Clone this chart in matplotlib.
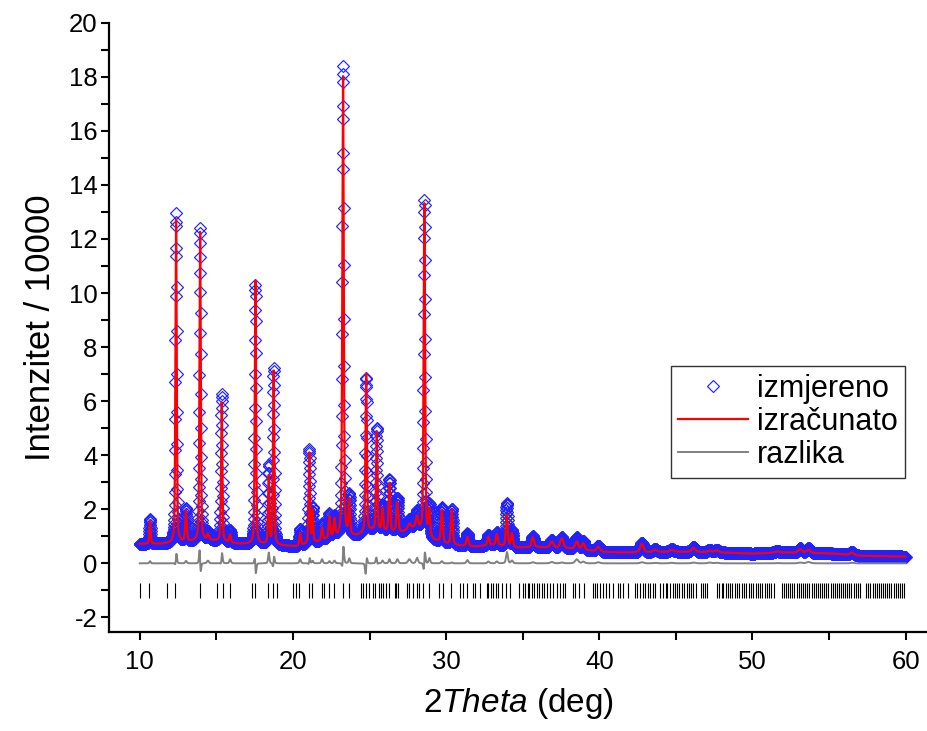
import numpy as np
import matplotlib
matplotlib.use('Agg')
import matplotlib.pyplot as plt
from matplotlib.ticker import MultipleLocator

plt.rcParams['font.family'] = ['Liberation Sans', 'DejaVu Sans']
plt.rcParams['mathtext.fontset'] = 'custom'
plt.rcParams['mathtext.rm'] = 'Liberation Sans'
plt.rcParams['mathtext.it'] = 'Liberation Sans:italic'
plt.rcParams['axes.unicode_minus'] = False

peak_pos = [10.67, 12.37, 13.02, 13.94, 14.45, 15.35, 15.90, 17.55, 18.42, 18.74,
            20.47, 21.07, 21.29, 21.90, 22.38, 22.71, 23.27, 23.68, 24.78, 25.47,
            25.85, 26.30, 26.82, 27.60, 28.10, 28.58, 28.91, 29.72, 30.37, 31.39,
            32.76, 33.31, 33.96, 34.30, 35.66, 36.90, 37.55, 38.53, 38.96, 39.94,
            42.78, 43.64, 44.73, 46.15, 47.20, 47.67, 51.60, 53.11, 53.66, 56.49]
calc_top = [1.55, 12.70, 1.91, 12.25, 1.05, 5.95, 1.05, 10.45, 3.20, 7.10,
            1.10, 4.07, 1.91, 1.30, 1.72, 1.60, 18.00, 2.28, 7.00, 4.83,
            2.00, 2.95, 2.25, 1.45, 1.70, 13.30, 1.91, 1.97, 1.97, 0.98,
            0.98, 1.08, 1.79, 1.10, 0.96, 0.80, 0.92, 0.80, 0.74, 0.61,
            0.72, 0.50, 0.50, 0.57, 0.47, 0.48, 0.44, 0.52, 0.50, 0.40]
obs_top = [1.63, 12.95, 2.00, 12.40, 1.15, 6.25, 1.20, 10.30, 3.60, 7.20,
           1.25, 4.20, 2.00, 1.45, 1.80, 1.70, 18.40, 2.46, 6.85, 4.99,
           2.10, 3.10, 2.40, 1.60, 1.90, 13.44, 2.10, 2.05, 2.00, 1.10,
           1.05, 1.15, 2.20, 1.20, 1.00, 0.85, 0.95, 0.95, 0.80, 0.65,
           0.76, 0.52, 0.52, 0.60, 0.50, 0.50, 0.45, 0.55, 0.55, 0.42]
peak_fwhm = [0.10, 0.10, 0.12, 0.10, 0.15, 0.10, 0.12, 0.10, 0.10, 0.10,
             0.12, 0.10, 0.10, 0.12, 0.12, 0.12, 0.11, 0.12, 0.11, 0.11,
             0.12, 0.12, 0.14, 0.20, 0.15, 0.11, 0.12, 0.14, 0.14, 0.15,
             0.15, 0.15, 0.14, 0.15, 0.20, 0.25, 0.25, 0.25, 0.20, 0.25,
             0.25, 0.30, 0.30, 0.30, 0.30, 0.30, 0.40, 0.30, 0.30, 0.30]
obs_shift = [0, 0.001, 0, -0.0025, 0, 0.002, 0, -0.002, 0, 0.002,
             0, 0.002, 0, 0, 0, 0, 0.0015, 0, 0.004, -0.002,
             0, 0, 0, 0, 0, 0.002, 0, 0, 0, 0,
             0, 0, 0.003, 0, 0, 0, 0, 0, 0, 0,
             0, 0, 0, 0, 0, 0, 0, 0, 0, 0]

# background read at a few angles
bg_x = [10, 11.5, 12.8, 14.6, 16.5, 18.1, 19.5, 20.2, 21.6, 22.5, 24.2, 25.1, 27.1,
        28.0, 29.2, 30.0, 31.0, 32.0, 33.0, 34.6, 36.0, 38.0, 40.3, 41.5, 45.0,
        48.0, 50.0, 52.0, 55.0, 57.0, 60.0]
bg_y = [0.72, 0.72, 0.78, 0.85, 0.72, 0.70, 0.65, 0.62, 0.78, 0.95, 1.02, 1.20, 1.15,
        1.35, 0.85, 0.72, 0.65, 0.62, 0.68, 0.58, 0.60, 0.55, 0.42, 0.40, 0.43,
        0.40, 0.36, 0.40, 0.37, 0.28, 0.25]

# Bragg reflection positions
refl = [10.02, 10.63, 11.80, 12.32, 13.94, 15.07, 15.46, 15.89, 17.35, 17.52,
        18.40, 18.68, 18.98, 20.03, 20.19, 20.42, 21.07, 21.27, 21.88, 22.03,
        22.38, 22.71, 23.29, 23.68, 24.43, 24.56, 24.76, 24.99, 25.21, 25.38,
        25.60, 25.77, 25.90, 26.08, 26.26, 26.65, 26.75, 26.88, 27.47, 27.60,
        27.82, 28.09, 28.26, 28.52, 28.91, 29.56, 29.78, 30.33, 30.91, 31.13,
        31.39, 31.74, 31.89, 32.22, 32.66, 32.76, 32.94, 33.09, 33.26, 33.41,
        33.64, 33.92, 34.18, 34.78, 35.01, 35.18, 35.33, 35.44, 35.59, 35.74,
        35.92, 36.09, 36.25, 36.40, 36.57, 36.79, 37.00, 37.27, 37.44, 37.62,
        37.77, 38.27, 38.42, 38.70, 39.01, 39.62, 39.73, 39.84, 40.05, 40.23,
        40.45, 40.66, 40.92, 41.25, 41.36, 41.57, 41.90, 42.34, 42.49, 42.67,
        42.84, 42.99, 43.17, 43.32, 43.49, 43.64, 43.97, 44.14, 44.35, 44.45,
        44.63, 44.80, 44.95, 45.10, 45.23, 45.38, 45.52, 45.70, 45.84, 45.99,
        46.12, 46.30, 46.62, 46.79, 46.93, 47.06, 47.68, 47.83, 47.98, 48.10,
        48.26, 48.41, 48.55, 48.69, 48.86, 49.02, 49.15, 49.30, 49.46, 49.60,
        49.78, 49.92, 50.06, 50.20, 50.35, 50.48, 50.64, 50.80, 50.95, 51.10,
        51.24, 51.38, 51.92, 52.06, 52.20, 52.33, 52.47, 52.60, 52.74, 52.90,
        53.03, 53.16, 53.30, 53.44, 53.58, 53.71, 53.86, 54.00, 54.13, 54.27,
        54.40, 54.53, 54.68, 54.82, 54.95, 55.10, 55.23, 55.37, 55.50, 55.64,
        55.78, 55.91, 56.05, 56.18, 56.32, 56.46, 56.60, 56.73, 56.87, 57.00,
        57.42, 57.56, 57.70, 57.84, 57.97, 58.11, 58.25, 58.38, 58.52, 58.66,
        58.80, 58.93, 59.07, 59.21, 59.35, 59.48, 59.62, 59.76, 59.90]


def pv(x, c, h, w, eta=0.4):
    g = np.exp(-4 * np.log(2) * ((x - c) / w) ** 2)
    l = 1.0 / (1 + 4 * ((x - c) / w) ** 2)
    return h * (eta * l + (1 - eta) * g)


tt = np.arange(10.0, 60.0001, 0.01)
bg = np.interp(tt, bg_x, bg_y)
calc = bg.copy()
obs = bg.copy()
for p, hc, ho, w, d in zip(peak_pos, calc_top, obs_top, peak_fwhm, obs_shift):
    b = np.interp(p, bg_x, bg_y)
    calc += pv(tt, p, hc - b, w)
    obs += pv(tt, p + d, ho - b, w)
diff = obs - calc

fig = plt.figure(figsize=(9.28, 7.31), dpi=100)
ax = fig.add_axes([0.1176, 0.1358, 0.8824, 0.8331])

ax.plot(tt, obs, ls='none', marker='D', ms=6.3, mfc='none', mec='#2222ff', mew=0.85,
        label='izmjereno', zorder=2)
ax.plot(tt, calc, color='#ff0000', lw=1.6, label='izračunato', zorder=3)
ax.plot(tt, diff, color='#808080', lw=1.4, label='razlika', zorder=3)
ax.vlines(refl, -1.29, -0.74, color='black', lw=0.8, zorder=3)

ax.set_xlim(8, 61.46)
ax.set_ylim(-2.53, 20)
ax.xaxis.set_major_locator(MultipleLocator(10))
ax.xaxis.set_minor_locator(MultipleLocator(5))
ax.yaxis.set_major_locator(MultipleLocator(2))
ax.yaxis.set_minor_locator(MultipleLocator(1))
ax.tick_params(which='both', direction='out', length=5.5, width=1.5, labelsize=18.5)
ax.tick_params(axis='x', pad=8)
ax.tick_params(axis='y', pad=3)

for s in ['top', 'right']:
    ax.spines[s].set_visible(False)
for s in ['left', 'bottom']:
    ax.spines[s].set_linewidth(1.6)

ax.set_xlabel(r'$\mathit{2Theta}$ (deg)', fontsize=24, labelpad=8)
ax.set_ylabel('Intenzitet / 10000', fontsize=25, labelpad=8)

leg = ax.legend(loc='upper right', bbox_to_anchor=(0.972, 0.436), fontsize=22,
                frameon=True, fancybox=False, edgecolor='black', numpoints=1,
                handlelength=2.26, handletextpad=0.3, labelspacing=0.1,
                borderpad=0.25, borderaxespad=0)
leg.get_frame().set_linewidth(1.0)

fig.savefig('out.png', dpi=100)
